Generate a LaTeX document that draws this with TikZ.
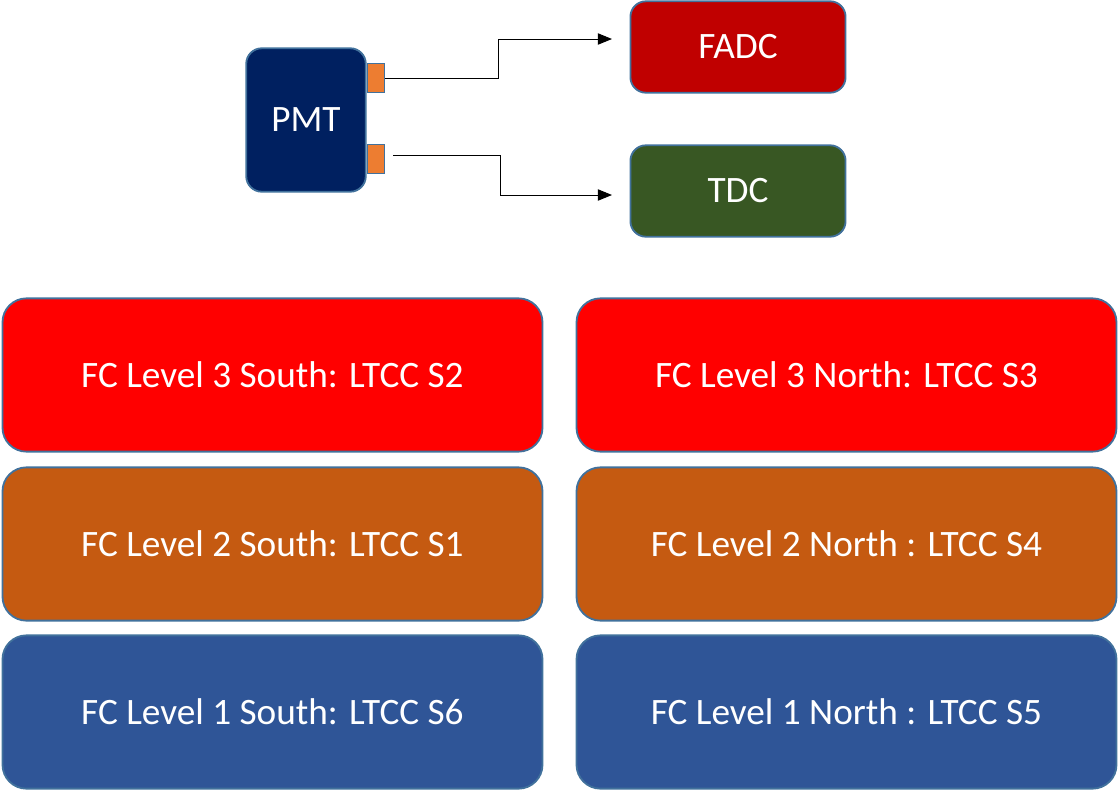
\documentclass[tikz,border=0pt]{standalone}
\usepackage{fontspec}
\setmainfont{Carlito}
\usetikzlibrary{arrows.meta}

\definecolor{edge}{HTML}{41719C}
\definecolor{navy}{HTML}{002060}
\definecolor{port}{HTML}{ED7D31}
\definecolor{darkred}{HTML}{C00000}
\definecolor{moss}{HTML}{385723}
\definecolor{lvlthree}{HTML}{FF0000}
\definecolor{lvltwo}{HTML}{C55A11}
\definecolor{lvlone}{HTML}{2F5597}

\tikzset{
  box/.style={draw=edge, line width=1.3pt, text=white, rounded corners=11pt,
    font=\fontsize{26.5}{30}\selectfont, inner sep=0pt},
  portbox/.style={draw=edge, line width=1pt, fill=port, inner sep=0pt,
    minimum width=12.5pt, minimum height=20.5pt},
  wire/.style={line width=0.7pt, -{Triangle[length=10pt,width=8pt]}}
}

\begin{document}
\begin{tikzpicture}[x=0.025cm,y=-0.025cm]
  \useasboundingbox (0,0) rectangle (1119,791);
  % detector and readout
  \node[box, fill=navy, minimum width=85pt, minimum height=102pt] (pmt) at (306,120) {PMT};
  \node[portbox] (porta) at (376,78) {};
  \node[portbox] (portb) at (376,159) {};
  \node[box, fill=darkred, minimum width=153pt, minimum height=65pt] (fadc) at (738,47) {FADC};
  \node[box, fill=moss, minimum width=153pt, minimum height=65pt] (tdc) at (738,191) {TDC};
  \coordinate (tdcout) at (393,155);
  \coordinate (fadcin) at (612,39);
  \coordinate (tdcin) at (612,195);
  \draw[wire] (porta.east) -- (498,78) |- (fadcin);
  \draw[wire] (tdcout) -- (500,155) |- (tdcin);
  % sector map
  \foreach \y/\col/\south/\north in {375/lvlthree/FC Level 3 South: LTCC S2/FC Level 3 North: LTCC S3,
      544/lvltwo/FC Level 2 South: LTCC S1/FC Level 2 North : LTCC S4,
      712/lvlone/FC Level 1 South: LTCC S6/FC Level 1 North : LTCC S5}
  {
    \node[box, rounded corners=17pt, fill=\col, minimum width=384pt, minimum height=109pt] (s\y) at (272.5,\y) {\south};
    \node[box, rounded corners=17pt, fill=\col, minimum width=384pt, minimum height=109pt] (n\y) at (846.5,\y) {\north};
  }
\end{tikzpicture}
\end{document}
